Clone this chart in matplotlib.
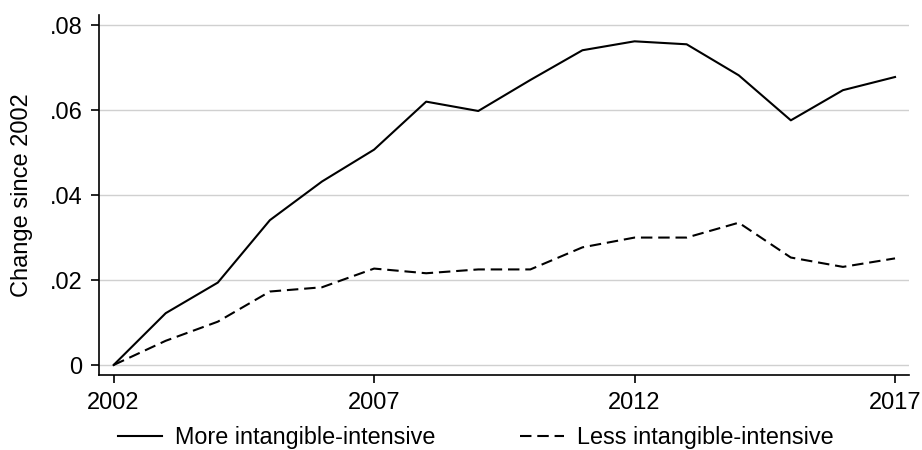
import matplotlib.pyplot as plt
from matplotlib.ticker import FixedLocator

plt.rcParams['font.family'] = ['Liberation Sans', 'DejaVu Sans']

years = list(range(2002, 2018))
more_intangible = [0.0, 0.0122, 0.0194, 0.0341, 0.0432, 0.0507, 0.0620, 0.0598,
                   0.0671, 0.0741, 0.0762, 0.0755, 0.0682, 0.0576, 0.0647, 0.0678]
less_intangible = [0.0, 0.0057, 0.0102, 0.0173, 0.0183, 0.0227, 0.0216, 0.0225,
                   0.0225, 0.0277, 0.0300, 0.0300, 0.0335, 0.0253, 0.0231, 0.0251]
y_ticks = [0, 0.02, 0.04, 0.06, 0.08]
y_labels = ['0', '.02', '.04', '.06', '.08']
x_ticks = [2002, 2007, 2012, 2017]

fig = plt.figure(figsize=(9.22, 4.5), dpi=100)
ax = fig.add_axes([0.1074, 0.1667, 0.8786, 0.80])

ax.plot(years, more_intangible, color='black', lw=1.5, label='More intangible-intensive')
ax.plot(years, less_intangible, color='black', lw=1.5, dashes=(5.5, 2.8),
        label='Less intangible-intensive')

ax.set_xlim(2001.72, 2017.27)
ax.set_ylim(-0.00235, 0.0824)
ax.yaxis.set_major_locator(FixedLocator(y_ticks))
ax.set_yticklabels(y_labels)
ax.set_xticks(x_ticks)
ax.grid(axis='y', color='#d0d0d0', lw=1)
ax.set_axisbelow(True)

for s in ['top', 'right']:
    ax.spines[s].set_visible(False)
for s in ['left', 'bottom']:
    ax.spines[s].set_linewidth(1.2)

ax.tick_params(axis='both', labelsize=17, length=6, width=1.2, colors='black', pad=6)
ax.set_ylabel('Change since 2002', fontsize=17, labelpad=12)

# the reference cuts the legend at the bottom edge; keep it just inside
fig.legend(loc='center', bbox_to_anchor=(0.516, 0.027), ncol=2, frameon=False,
           fontsize=16.8, handlelength=1.9, handletextpad=0.55, columnspacing=3.6)

fig.savefig('out.png', dpi=100)
